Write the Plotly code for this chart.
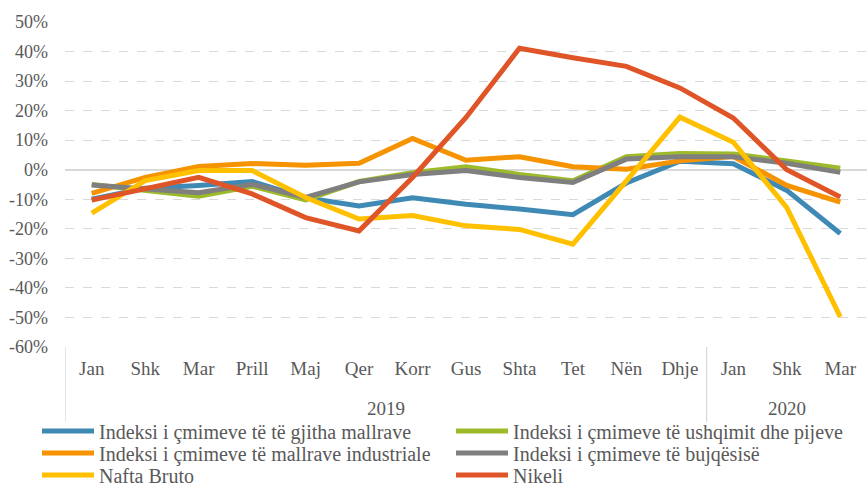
import plotly.graph_objects as go

months = ["Jan", "Shk", "Mar", "Prill", "Maj", "Qer", "Korr", "Gus", "Shta", "Tet", "Nën", "Dhje", "Jan", "Shk", "Mar"]
years = ["2019", "2020"]
year_counts = [12, 3]

all_goods = [-10.0, -6.3, -5.3, -4.0, -9.5, -12.3, -9.5, -11.7, -13.3, -15.2, -4.5, 2.9, 2.0, -7.0, -21.6]
food = [-5.0, -7.0, -9.0, -5.6, -10.2, -4.0, -1.0, 1.0, -1.6, -3.7, 4.4, 5.5, 5.3, 3.0, 0.5]
industrial = [-8.0, -2.6, 1.1, 2.1, 1.5, 2.2, 10.6, 3.2, 4.4, 1.0, 0.2, 3.0, 4.5, -5.3, -11.0]
agriculture = [-5.2, -6.5, -7.8, -4.9, -9.4, -4.1, -1.6, -0.3, -2.6, -4.3, 3.6, 4.4, 4.4, 2.2, -0.9]
crude_oil = [-14.7, -3.7, -0.3, -0.3, -9.4, -16.7, -15.5, -19.0, -20.2, -25.2, -3.8, 17.8, 9.3, -12.8, -49.8]
nickel = [-10.3, -6.5, -2.6, -8.2, -16.2, -20.7, -2.6, 17.7, 41.1, 37.9, 35.0, 27.7, 17.5, 0.0, -9.2]

series_names = [
    "Indeksi i çmimeve të të gjitha mallrave",
    "Indeksi i çmimeve të ushqimit dhe pijeve",
    "Indeksi i çmimeve të mallrave industriale",
    "Indeksi i çmimeve të bujqësisë",
    "Nafta Bruto",
    "Nikeli",
]
series_values = [all_goods, food, industrial, agriculture, crude_oil, nickel]
series_colors = ["#3F89B5", "#9DBA2B", "#F59300", "#7F7F7F", "#FFC000", "#E05527"]

yticks = list(range(-60, 51, 10))
ytick_text = [f"{v}%" for v in yticks]

FONT = "Liberation Serif, serif"
TXT = "#595959"

x = list(range(len(months)))
legend_ids = ["legend", "legend2", "legend3", "legend4", "legend5", "legend6"]
# legend grid: two columns, three rows (text start x, row centre y) in pixels
legend_cols = [100, 514]
legend_rows = [431, 453, 475]
SWATCH = 52

fig = go.Figure()
for i, (name, vals, col) in enumerate(zip(series_names, series_values, series_colors)):
    fig.add_trace(go.Scatter(
        x=x, y=vals, name=name, mode="lines", legend=legend_ids[i],
        line=dict(color=col, width=5),
    ))

legends = {}
for i, lid in enumerate(legend_ids):
    cx = legend_cols[i % 2] - (SWATCH + 11)
    cy = legend_rows[i // 2]
    legends[lid] = dict(
        orientation="h", xref="container", yref="container",
        x=cx / 867, xanchor="left", y=1 - cy / 483, yanchor="middle",
        itemwidth=SWATCH,
        font=dict(family=FONT, size=20, color=TXT),
        bgcolor="rgba(0,0,0,0)",
    )

fig.update_layout(
    width=867, height=483,
    margin=dict(l=65, r=0, t=22, b=136, autoexpand=False),
    paper_bgcolor="white", plot_bgcolor="white",
    font=dict(family=FONT, color=TXT, size=19),
    showlegend=True,
    xaxis=dict(
        range=[-0.5, 14.5], tickmode="array", tickvals=x, ticktext=months,
        showgrid=False, zeroline=False, showline=False, ticks="",
        ticklabelstandoff=8, tickfont=dict(family=FONT, size=19, color=TXT),
        automargin=False, fixedrange=True,
    ),
    yaxis=dict(
        range=[-60, 50], tickmode="array", tickvals=yticks, ticktext=ytick_text,
        showgrid=True, gridcolor="#D9D9D9", gridwidth=1.3, griddash="dash",
        zeroline=True, zerolinecolor="#D9D9D9", zerolinewidth=1.5,
        showline=False, ticks="", ticklabelstandoff=16,
        tickfont=dict(family=FONT, size=18, color=TXT),
        automargin=False, fixedrange=True,
    ),
    **legends,
)

# group dividers and year labels for the two-level category axis
start = -0.5
for yr, cnt in zip(years, year_counts):
    fig.add_shape(type="line", xref="x", yref="paper", x0=start, x1=start, y0=0, y1=-0.23,
                  line=dict(color="#D9D9D9", width=1.3))
    fig.add_annotation(x=start + cnt / 2, xref="x", y=-0.188, yref="paper",
                       text=yr, showarrow=False, yanchor="middle",
                       font=dict(family=FONT, size=19, color=TXT))
    start += cnt

fig.write_html("out.html", config={"displayModeBar": False},
               post_script="document.body.style.margin='0px';")
